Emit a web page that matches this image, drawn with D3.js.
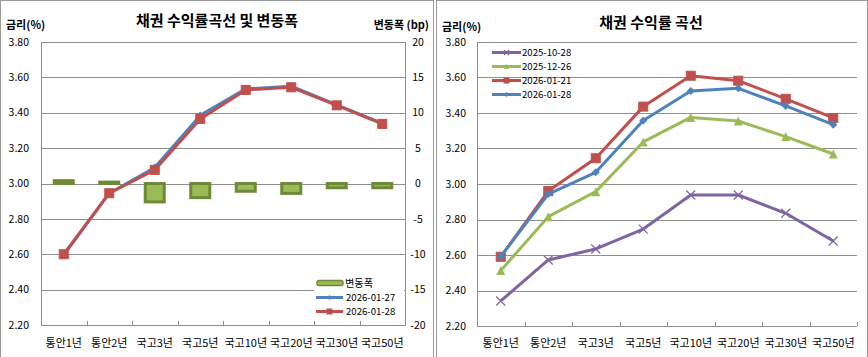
<!DOCTYPE html>
<html><head><meta charset="utf-8">
<script src="https://cdn.jsdelivr.net/npm/d3@7"></script>
<style>
html,body{margin:0;padding:0;background:#fff;}
svg text{font-family:"Noto Sans CJK KR","Noto Sans",sans-serif;fill:#000;}
</style></head>
<body>
<svg id="c" width="868" height="357"></svg>
<script>
const categories = ['통안1년','통안2년','국고3년','국고5년','국고10년','국고20년','국고30년','국고50년'];
// left chart
const left0127 = [2.595, 2.945, 3.090, 3.385, 3.535, 3.550, 3.445, 3.340];
const left0128 = [2.600, 2.945, 3.077, 3.365, 3.529, 3.544, 3.442, 3.337];
const changeBp = [0.4, 0.2, -2.6, -2.0, -1.1, -1.4, -0.6, -0.6];
// right chart
const r20251028 = [2.341, 2.572, 2.634, 2.746, 2.938, 2.938, 2.835, 2.679];
const r20251226 = [2.512, 2.816, 2.957, 3.237, 3.375, 3.355, 3.267, 3.169];
const r20260121 = [2.590, 2.960, 3.145, 3.436, 3.610, 3.582, 3.480, 3.372];
const r20260128 = [2.592, 2.943, 3.066, 3.358, 3.524, 3.539, 3.440, 3.334];
const yTicks = [2.2, 2.4, 2.6, 2.8, 3.0, 3.2, 3.4, 3.6, 3.8];
const bpTicks = [-20, -15, -10, -5, 0, 5, 10, 15, 20];

const C = {blue:'#4f81bd', red:'#c0504d', green:'#9bbb59', purple:'#8064a2', olive:'#6f8a37', grid:'#8f8f8f'};
const svg = d3.select('#c');
const LF = 9.6; // legend font size

// panel borders
svg.append('rect').attr('x',0.5).attr('y',0.5).attr('width',433).attr('height',370).attr('fill','none').attr('stroke','#9a9a9a');
svg.append('rect').attr('x',436.5).attr('y',0.5).attr('width',431).attr('height',370).attr('fill','none').attr('stroke','#9a9a9a');

function marker(g, type, x, y, color, s) {
  if (type==='square') {
    g.append('rect').attr('x',x-s/2).attr('y',y-s/2).attr('width',s).attr('height',s).attr('fill',color).attr('stroke',color);
  } else if (type==='diamond') {
    g.append('path').attr('d',`M${x},${y-s/2}L${x+s/2},${y}L${x},${y+s/2}L${x-s/2},${y}Z`).attr('fill',color);
  } else if (type==='triangle') {
    g.append('path').attr('d',`M${x},${y-s/2}L${x+s/2},${y+s/2}L${x-s/2},${y+s/2}Z`).attr('fill',color);
  } else if (type==='x') {
    g.append('path').attr('d',`M${x-s/2},${y-s/2}L${x+s/2},${y+s/2}M${x-s/2},${y+s/2}L${x+s/2},${y-s/2}`).attr('stroke',color).attr('stroke-width',1.2).attr('fill','none');
  }
}
function series(g, x, y, vals, color, type, s) {
  const line = d3.line().x((d,i)=>x(categories[i])+x.bandwidth()/2).y(d=>y(d));
  g.append('path').datum(vals).attr('d',line).attr('fill','none').attr('stroke',color).attr('stroke-width',3).attr('stroke-linejoin','round');
  vals.forEach((v,i)=>marker(g,type,x(categories[i])+x.bandwidth()/2,y(v),color,s));
}

// ---------- LEFT CHART ----------
{
  const x0=41, x1=405, y0=42, y1=325;
  const x = d3.scaleBand().domain(categories).range([x0,x1]).padding(0);
  const y = d3.scaleLinear().domain([2.2,3.8]).range([y1,y0]);
  const yr = d3.scaleLinear().domain([-20,20]).range([y1,y0]);
  const g = svg.append('g');
  yTicks.forEach(t=>{
    g.append('line').attr('x1',x0).attr('x2',x1).attr('y1',Math.round(y(t))+0.5).attr('y2',Math.round(y(t))+0.5).attr('stroke',C.grid);
    g.append('text').attr('x',29).attr('y',y(t)).attr('dy','0.35em').attr('text-anchor','end').attr('font-size',10.5).text(t.toFixed(2));
  });
  bpTicks.forEach(t=>{
    g.append('text').attr('x',418).attr('y',yr(t)).attr('dy','0.35em').attr('text-anchor','middle').attr('font-size',10.5).text(t);
  });
  g.append('rect').attr('x',x0+0.5).attr('y',y0+0.5).attr('width',x1-x0).attr('height',y1-y0).attr('fill','none').attr('stroke',C.grid);
  categories.forEach((c,i)=>{ if(i>0) g.append('line').attr('x1',Math.round(x(c))+0.5).attr('x2',Math.round(x(c))+0.5).attr('y1',y1-4).attr('y2',y1).attr('stroke',C.grid); });
  categories.forEach(c=>{
    g.append('text').attr('x',x(c)+x.bandwidth()/2).attr('y',347).attr('text-anchor','middle').attr('font-size',11).text(c);
  });
  const bw = 19;
  changeBp.forEach((v,i)=>{
    const cx = x(categories[i])+x.bandwidth()/2;
    const top = Math.min(yr(v),yr(0)), h = Math.max(Math.abs(yr(v)-yr(0)),1);
    g.append('rect').attr('x',cx-bw/2).attr('y',top).attr('width',bw).attr('height',h)
      .attr('fill',C.green).attr('stroke',C.olive).attr('stroke-width',3);
  });
  series(g,x,y,left0127,C.blue,'diamond',8);
  series(g,x,y,left0128,C.red,'square',9);
  svg.append('text').attr('x',217).attr('y',26).attr('text-anchor','middle').attr('font-size',15).attr('font-weight','bold').text('채권 수익률곡선 및 변동폭');
  svg.append('text').attr('x',6).attr('y',29).attr('font-size',11).attr('font-weight','bold').text('금리(%)');
  svg.append('text').attr('x',429).attr('y',29).attr('text-anchor','end').attr('font-size',11).attr('font-weight','bold').text('변동폭 (bp)');
  const lg = svg.append('g');
  lg.append('rect').attr('x',314).attr('y',276).attr('width',90).attr('height',42).attr('fill','#fff');
  lg.append('rect').attr('x',317).attr('y',280.5).attr('width',26).attr('height',5).attr('rx',2).attr('fill',C.green).attr('stroke',C.olive).attr('stroke-width',1.5);
  lg.append('text').attr('x',345).attr('y',283).attr('dy','0.35em').attr('font-size',LF+0.6).text('변동폭');
  const items=[['2026-01-27',C.blue,'diamond',297.5],['2026-01-28',C.red,'square',311.5]];
  items.forEach(([t,c,m,yy])=>{
    lg.append('line').attr('x1',316).attr('x2',343).attr('y1',yy).attr('y2',yy).attr('stroke',c).attr('stroke-width',3);
    marker(lg,m,329.5,yy,c,5);
    lg.append('text').attr('x',346).attr('y',yy).attr('dy','0.35em').attr('font-size',LF).text(t);
  });
}

// ---------- RIGHT CHART ----------
{
  const x0=477, x1=857, y0=42, y1=326;
  const x = d3.scaleBand().domain(categories).range([x0,x1]).padding(0);
  const y = d3.scaleLinear().domain([2.2,3.8]).range([y1,y0]);
  const g = svg.append('g');
  yTicks.forEach(t=>{
    g.append('line').attr('x1',x0).attr('x2',x1).attr('y1',Math.round(y(t))+0.5).attr('y2',Math.round(y(t))+0.5).attr('stroke',C.grid);
    g.append('text').attr('x',466).attr('y',y(t)).attr('dy','0.35em').attr('text-anchor','end').attr('font-size',10.5).text(t.toFixed(2));
  });
  g.append('line').attr('x1',x0+0.5).attr('x2',x0+0.5).attr('y1',y0).attr('y2',y1).attr('stroke',C.grid);
  categories.forEach((c,i)=>{ g.append('line').attr('x1',Math.round(x(c)+x.bandwidth())+0.5).attr('x2',Math.round(x(c)+x.bandwidth())+0.5).attr('y1',y1-4).attr('y2',y1).attr('stroke',C.grid); });
  categories.forEach(c=>{
    g.append('text').attr('x',x(c)+x.bandwidth()/2).attr('y',347).attr('text-anchor','middle').attr('font-size',11).text(c);
  });
  series(g,x,y,r20251028,C.purple,'x',9);
  series(g,x,y,r20251226,C.green,'triangle',9);
  series(g,x,y,r20260121,C.red,'square',9);
  series(g,x,y,r20260128,C.blue,'diamond',8);
  svg.append('text').attr('x',651).attr('y',28).attr('text-anchor','middle').attr('font-size',15).attr('font-weight','bold').text('채권 수익률 곡선');
  svg.append('text').attr('x',442).attr('y',31).attr('font-size',11).attr('font-weight','bold').text('금리(%)');
  const lg = svg.append('g');
  const items=[['2025-10-28',C.purple,'x',52.5],['2025-12-26',C.green,'triangle',66.5],['2026-01-21',C.red,'square',80.5],['2026-01-28',C.blue,'diamond',94.5]];
  items.forEach(([t,c,m,yy])=>{
    lg.append('line').attr('x1',492).attr('x2',521).attr('y1',yy).attr('y2',yy).attr('stroke',c).attr('stroke-width',3);
    marker(lg,m,506.5,yy,c,5);
    lg.append('text').attr('x',522).attr('y',yy).attr('dy','0.35em').attr('font-size',LF).text(t);
  });
}
</script>
</body></html>
